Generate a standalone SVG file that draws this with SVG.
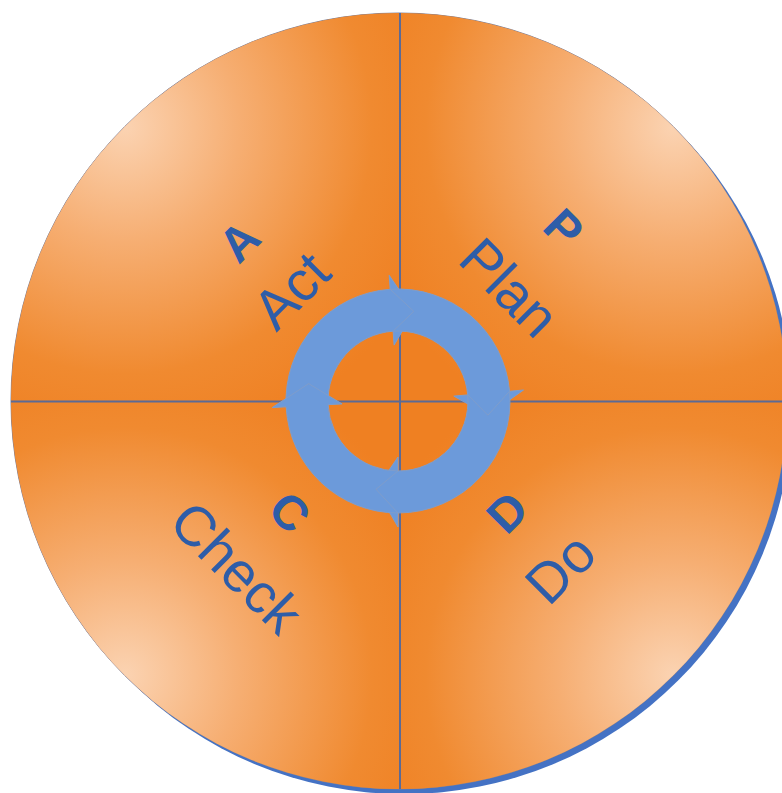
<svg xmlns="http://www.w3.org/2000/svg" width="782" height="793" viewBox="0 0 782 793">
<style>
.q{stroke:none}
.axis{stroke:#5B6A96;stroke-width:2;fill:none}
.lbl{font-family:"Liberation Sans",Arial,sans-serif;fill:#2E5DA8;text-anchor:middle}
.big{font-size:48px;font-weight:bold}
.word{font-size:56px}
.arrow{fill:#6C9ADA;stroke:#7F9DCB;stroke-width:1;stroke-linejoin:round}
</style>
<defs>
<radialGradient id="gTL" gradientUnits="userSpaceOnUse" cx="124.6" cy="126.6" r="330">
<stop offset="0" stop-color="#FBD3B2"/><stop offset="0.35" stop-color="#F6AE72"/><stop offset="0.75" stop-color="#F08A30"/><stop offset="1" stop-color="#EF8022"/>
</radialGradient>
<radialGradient id="gTR" gradientUnits="userSpaceOnUse" cx="673.4" cy="126.6" r="330">
<stop offset="0" stop-color="#FBD3B2"/><stop offset="0.35" stop-color="#F6AE72"/><stop offset="0.75" stop-color="#F08A30"/><stop offset="1" stop-color="#EF8022"/>
</radialGradient>
<radialGradient id="gBR" gradientUnits="userSpaceOnUse" cx="673.4" cy="675.4" r="330">
<stop offset="0" stop-color="#FBD3B2"/><stop offset="0.35" stop-color="#F6AE72"/><stop offset="0.75" stop-color="#F08A30"/><stop offset="1" stop-color="#EF8022"/>
</radialGradient>
<radialGradient id="gBL" gradientUnits="userSpaceOnUse" cx="124.6" cy="675.4" r="330">
<stop offset="0" stop-color="#FBD3B2"/><stop offset="0.35" stop-color="#F6AE72"/><stop offset="0.75" stop-color="#F08A30"/><stop offset="1" stop-color="#EF8022"/>
</radialGradient>
</defs>
<rect width="782" height="793" fill="#FFFFFF"/>
<g id="disc">
<circle cx="404" cy="406" r="388" fill="#4472C4"/>
<circle cx="399" cy="401" r="388" fill="#EF8022" stroke="#7A7F9A" stroke-width="1"/>
</g>
<g id="act">
<path class="q" d="M399,401 L11,401 A388,388 0 0 1 399,13 Z" fill="url(#gTL)"/>
</g>
<g id="plan">
<path class="q" d="M399,401 L399,13 A388,388 0 0 1 787,401 Z" fill="url(#gTR)"/>
</g>
<g id="do">
<path class="q" d="M399,401 L787,401 A388,388 0 0 1 399,789 Z" fill="url(#gBR)"/>
</g>
<g id="check">
<path class="q" d="M399,401 L399,789 A388,388 0 0 1 11,401 Z" fill="url(#gBL)"/>
</g>
<g id="axes">
<line class="axis" x1="400" y1="13" x2="400" y2="789"/>
<line class="axis" x1="11" y1="401.5" x2="787" y2="401.5"/>
</g>
<g id="connectors">
<path class="arrow" d="M286.15,406.86 A112,112 0 0 1 390.19,289.27 L389.21,275.31 L413.8,311.38 L394.09,345.14 L393.12,331.17 A70,70 0 0 0 328.1,404.66 L308.67,383.64 Z"/>
<path class="arrow" d="M390.19,289.27 A112,112 0 0 1 509.57,391.24 L523.52,390.02 L487.88,415.24 L453.79,396.12 L467.73,394.9 A70,70 0 0 0 393.12,331.17 L413.8,311.38 Z"/>
<path class="arrow" d="M509.57,391.24 A112,112 0 0 1 398,513 L398,527 L375.99,489.3 L398,457 L398,471 A70,70 0 0 0 467.73,394.9 L487.88,415.24 Z"/>
<path class="arrow" d="M398,513 A112,112 0 0 1 286.15,406.86 L272.17,407.59 L308.67,383.64 L342.08,403.93 L328.1,404.66 A70,70 0 0 0 398,471 L375.99,489.3 Z"/>
</g>
<g id="act-label">
<text class="lbl big" transform="translate(239,241) rotate(-45)" y="17">A</text>
<text class="lbl word" transform="translate(291,290) rotate(-45)" y="20">Act</text>
</g>
<g id="plan-label">
<text class="lbl big" transform="translate(564,228) rotate(45)" y="17">P</text>
<text class="lbl word" transform="translate(510,287) rotate(45)" y="20">Plan</text>
</g>
<g id="check-label">
<text class="lbl big" transform="translate(290,512) rotate(45)" y="17">C</text>
<text class="lbl word" transform="translate(237,567) rotate(45)" y="20">Check</text>
</g>
<g id="do-label">
<text class="lbl big" transform="translate(507,512) rotate(-45)" y="17">D</text>
<text class="lbl word" transform="translate(560,568) rotate(-45)" y="20">Do</text>
</g>
</svg>
